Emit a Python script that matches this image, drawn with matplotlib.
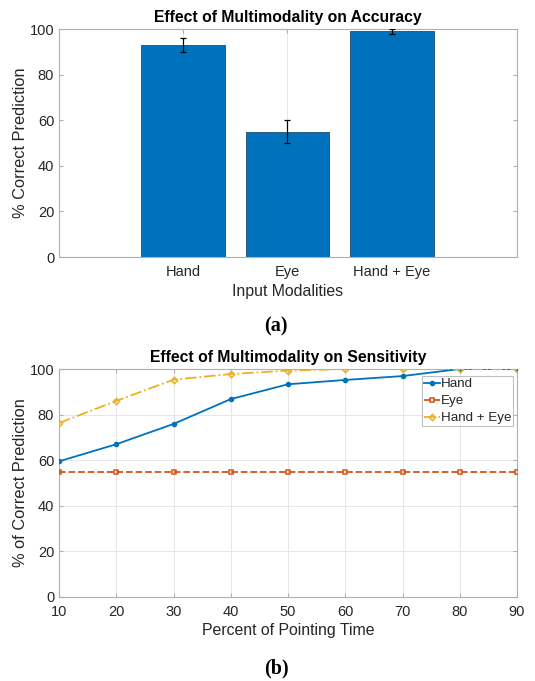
import matplotlib
matplotlib.use("Agg")
from matplotlib import pyplot as plt
import numpy as np

plt.rcParams['font.family'] = ['Liberation Sans', 'DejaVu Sans']

# (a) accuracy per modality
modalities = ["Hand", "Eye", "Hand + Eye"]
accuracy = [93, 55, 99]
accuracy_err = [3, 5, 1]

# (b) sensitivity vs pointing time
pointing_time = [10, 20, 30, 40, 50, 60, 70, 80, 90]
hand_sens = [59.5, 67.0, 75.9, 86.8, 93.3, 95.2, 96.9, 100, 100]
eye_sens = [55, 55, 55, 55, 55, 55, 55, 55, 55]
both_sens = [76.3, 86.0, 95.3, 97.8, 99.3, 100, 100, 100, 100]

blue = "#0072BD"
orange = "#D95319"
yellow = "#EDB120"
axis_grey = "#b0b0b0"
txt = "#262626"

fig = plt.figure(figsize=(5.35, 6.81), dpi=100)
W, H = 535, 681
ax1 = fig.add_axes([59 / W, 1 - 257 / H, 458 / W, 228 / H])
ax2 = fig.add_axes([59 / W, 1 - 597 / H, 458 / W, 228 / H])


def style(ax):
    for s in ax.spines.values():
        s.set_color(axis_grey)
        s.set_linewidth(0.8)
    ax.tick_params(colors=txt, labelsize=10.5, direction="in", length=3,
                   color=axis_grey, top=True, right=True, labeltop=False, labelright=False)
    ax.tick_params(axis="x", pad=6)
    ax.set_axisbelow(True)


# top: bars
xs = np.arange(1, len(modalities) + 1)
ax1.bar(xs, accuracy, width=0.8, color=blue, edgecolor="#1f4e6e", linewidth=0.6, zorder=2)
ax1.errorbar(xs, accuracy, yerr=accuracy_err, fmt="none", ecolor="black",
             elinewidth=0.9, capsize=2, capthick=0.9, zorder=3)
ax1.set_xlim(-0.19, 4.2)
ax1.set_ylim(0, 100)
ax1.set_xticks(xs)
ax1.set_xticklabels(modalities)
ax1.set_yticks([0, 20, 40, 60, 80, 100])
ax1.grid(axis="x", color="#e6e6e6", linewidth=0.7)
style(ax1)
ax1.set_xlabel("Input Modalities", fontsize=11.4, color=txt, labelpad=3)
ax1.set_ylabel("% Correct Prediction", fontsize=11.8, color=txt, labelpad=1)
ax1.set_title("Effect of Multimodality on Accuracy", fontsize=11.3, fontweight="bold", pad=5)

# bottom: lines
ax2.plot(pointing_time, hand_sens, "-", color=blue, marker="o", markersize=3, linewidth=1.3,
         label="Hand", zorder=3)
ax2.plot(pointing_time, eye_sens, "--", color=orange, marker="s", markersize=3,
         markerfacecolor="none", markeredgewidth=1.1, linewidth=1.3, label="Eye", zorder=3)
ax2.plot(pointing_time, both_sens, "-.", color=yellow, marker="D", markersize=3.2,
         markerfacecolor="none", markeredgewidth=1.1, linewidth=1.3, label="Hand + Eye", zorder=3)
ax2.set_xlim(10, 90)
ax2.set_ylim(0, 100)
ax2.set_xticks(pointing_time)
ax2.set_yticks([0, 20, 40, 60, 80, 100])
ax2.grid(True, color="#e6e6e6", linewidth=0.7)
style(ax2)
ax2.set_xlabel("Percent of Pointing Time", fontsize=11.4, color=txt, labelpad=3)
ax2.set_ylabel("% of Correct Prediction", fontsize=11.8, color=txt, labelpad=1)
ax2.set_title("Effect of Multimodality on Sensitivity", fontsize=11.3, fontweight="bold", pad=5)
leg = ax2.legend(loc="upper right", bbox_to_anchor=(0.992, 0.97), fontsize=9.6, frameon=True,
                 fancybox=False, edgecolor=axis_grey, handlelength=1.2, handletextpad=0.1,
                 borderpad=0.15, labelspacing=0.36, borderaxespad=0.0)
leg.get_frame().set_linewidth(0.8)
for t in leg.get_texts():
    t.set_color(txt)

# captions
fig.text(276 / W, 1 - 326 / H, "(a)", ha="center", va="center", fontsize=14.5,
         fontweight="bold", family=["Liberation Serif", "DejaVu Serif"])
fig.text(276 / W, 1 - 668 / H, "(b)", ha="center", va="center", fontsize=14.5,
         fontweight="bold", family=["Liberation Serif", "DejaVu Serif"])

fig.savefig("out.png", dpi=100)
